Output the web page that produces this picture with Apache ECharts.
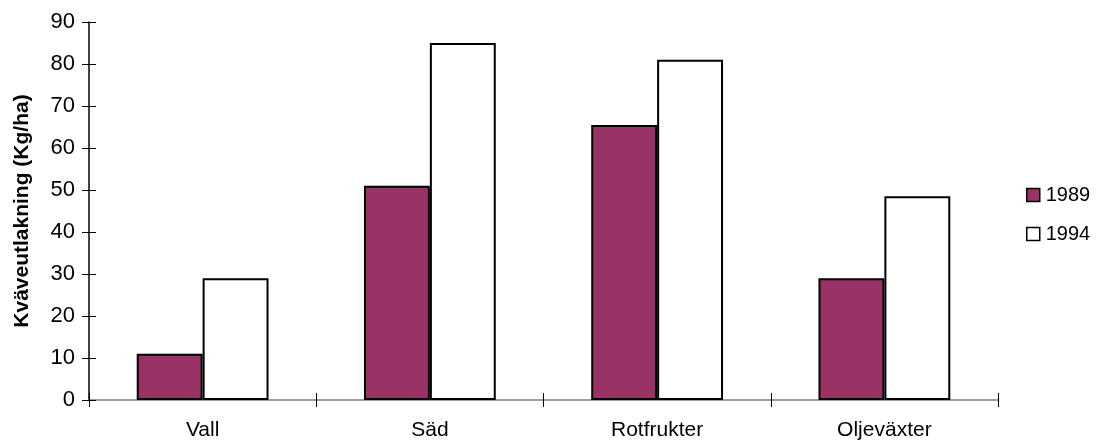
<!DOCTYPE html>
<html>
<head>
<meta charset="utf-8">
<script src="https://cdn.jsdelivr.net/npm/echarts@6/dist/echarts.min.js"></script>
<style>
html,body{margin:0;padding:0;background:#fff;}
#c{width:1097px;height:443px;}
</style>
</head>
<body>
<div id="c"></div>
<script>
// Nitrogen leaching per crop type, 1989 vs 1994
const categories = ['Vall', 'Säd', 'Rotfrukter', 'Oljeväxter'];
const seriesNames = ['1989', '1994'];
const values1989 = [11, 51, 65.5, 29];
const values1994 = [29, 85, 81, 48.5];
const yTicks = [0, 10, 20, 30, 40, 50, 60, 70, 80, 90];

const font = 'Liberation Sans, Arial, sans-serif';
const chart = echarts.init(document.getElementById('c'), null, {renderer: 'canvas'});

const yMax = yTicks[yTicks.length - 1];
const yStep = yTicks[1] - yTicks[0];

chart.setOption({
  animation: false,
  backgroundColor: '#ffffff',
  grid: {left: 89, right: 99, top: 22, bottom: 43, containLabel: false},
  legend: {
    orient: 'vertical',
    left: 1026,
    top: 185,
    padding: 0,
    itemGap: 19,
    itemWidth: 13,
    itemHeight: 13,
    icon: 'rect',
    itemStyle: {borderColor: '#000', borderWidth: 1.5},
    textStyle: {fontFamily: font, fontSize: 20, color: '#000', padding: [0, 0, 0, 1]},
    data: seriesNames
  },
  xAxis: [{
    type: 'category',
    data: categories,
    axisLine: {lineStyle: {color: '#808080', width: 1.5}},
    axisTick: {show: true, alignWithLabel: false, length: 7, lineStyle: {color: '#000'}},
    axisLabel: {fontFamily: font, fontSize: 21, color: '#000', margin: 20},
    splitLine: {show: false}
  }, {
    type: 'category',
    data: categories,
    position: 'bottom',
    axisLine: {show: false},
    axisTick: {show: true, inside: true, length: 7, lineStyle: {color: '#000'}},
    axisLabel: {show: false},
    splitLine: {show: false}
  }],
  yAxis: [{
    type: 'value',
    min: 0,
    max: yMax,
    interval: yStep,
    name: 'Kväveutlakning (Kg/ha)',
    nameLocation: 'middle',
    nameGap: 56,
    nameRotate: 90,
    nameTextStyle: {fontFamily: font, fontSize: 21, fontWeight: 'bold', color: '#000'},
    axisLine: {show: true, lineStyle: {color: '#000', width: 1.5}},
    axisTick: {show: true, length: 7, lineStyle: {color: '#000'}},
    axisLabel: {fontFamily: font, fontSize: 22, color: '#000', margin: 14},
    splitLine: {show: false}
  }, {
    type: 'value',
    position: 'left',
    min: 0,
    max: yMax,
    interval: yStep,
    axisLine: {show: false},
    axisTick: {show: true, inside: true, length: 7, lineStyle: {color: '#000'}},
    axisLabel: {show: false},
    splitLine: {show: false}
  }],
  series: [{
    name: seriesNames[0],
    type: 'bar',
    data: values1989,
    barGap: '0%',
    barCategoryGap: '42%',
    itemStyle: {color: '#993366', borderColor: '#000', borderWidth: 2}
  }, {
    name: seriesNames[1],
    type: 'bar',
    data: values1994,
    barGap: '0%',
    barCategoryGap: '42%',
    itemStyle: {color: '#ffffff', borderColor: '#000', borderWidth: 2}
  }]
});
</script>
</body>
</html>
